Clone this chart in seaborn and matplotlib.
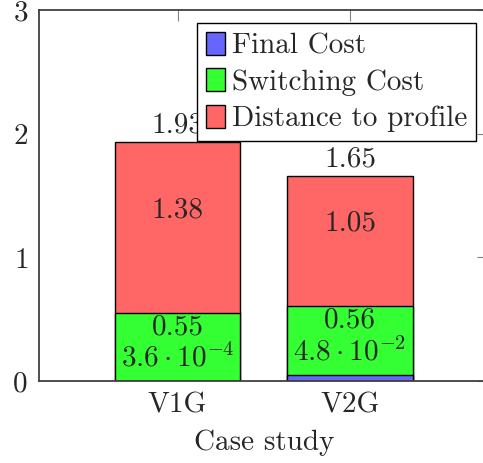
import numpy as np
import pandas as pd
import matplotlib
matplotlib.use("Agg")
from matplotlib import pyplot as plt
import seaborn as sns

# data
cases = ["V1G", "V2G"]
final_cost = [3.6e-4, 4.8e-2]
switching_cost = [0.55, 0.56]
distance = [1.38, 1.05]
totals = [1.93, 1.65]
final_labels = [r"$3.6\cdot10^{-4}$", r"$4.8\cdot10^{-2}$"]
switch_labels = ["0.55", "0.56"]
dist_labels = ["1.38", "1.05"]
total_labels = ["1.93", "1.65"]

sns.set_style("white")
plt.rcParams["font.family"] = "serif"
plt.rcParams["font.serif"] = ["cmr10", "DejaVu Serif"]
plt.rcParams["mathtext.fontset"] = "cm"
plt.rcParams["axes.unicode_minus"] = False
plt.rcParams["axes.formatter.use_mathtext"] = True

df = pd.DataFrame({"case": cases, "final": final_cost,
                   "switch": switching_cost, "dist": distance})
df["lvl1"] = df["final"]
df["lvl2"] = df["final"] + df["switch"]
df["lvl3"] = df["lvl2"] + df["dist"]

fs = 21
fig = plt.figure(figsize=(4.83, 4.63), dpi=100)
ax = fig.add_axes([39 / 483, 82 / 463, 449.5 / 483, 371 / 463])

blue, green, red = "#6666ff", "#33ff33", "#ff6666"
w = 0.725
# stacked bars: draw cumulative heights from top to bottom
sns.barplot(data=df, x="case", y="lvl3", color=red, saturation=1, width=w,
            edgecolor="black", linewidth=1.0, ax=ax, label="Distance to profile")
sns.barplot(data=df, x="case", y="lvl2", color=green, saturation=1, width=w,
            edgecolor="black", linewidth=1.0, ax=ax, label="Switching Cost")
sns.barplot(data=df, x="case", y="lvl1", color=blue, saturation=1, width=w,
            edgecolor="black", linewidth=1.0, ax=ax, label="Final Cost")

for i in range(len(cases)):
    f = final_cost[i]
    s = switching_cost[i]
    d = distance[i]
    ax.text(i, f + 0.19, final_labels[i], ha="center", va="center", fontsize=fs)
    ax.text(i, f + s / 2 + 0.16, switch_labels[i], ha="center", va="center", fontsize=fs)
    ax.text(i, f + s + d / 2 + 0.14, dist_labels[i], ha="center", va="center", fontsize=fs)
    ax.annotate(total_labels[i], (i, totals[i]), xytext=(0, 3), textcoords="offset points",
                ha="center", va="bottom", fontsize=fs)

ax.set_ylim(0, 3)
ax.set_xlim(-0.803, 1.803)
ax.set_yticks([0, 1, 2, 3])
ax.set_xlabel("Case study", fontsize=fs, labelpad=8)
ax.set_ylabel("")
ax.tick_params(axis="both", labelsize=fs, direction="in", length=8, width=0.8,
               color="#808080", top=True, right=True, pad=8)
for sp in ax.spines.values():
    sp.set_color("#404040")
    sp.set_linewidth(1.3)

handles, labels = ax.get_legend_handles_labels()
order = [labels.index("Final Cost"), labels.index("Switching Cost"),
         labels.index("Distance to profile")]
leg = ax.legend([handles[k] for k in order], [labels[k] for k in order],
                loc="upper right", bbox_to_anchor=(476 / 483, 1 - 23 / 463),
                bbox_transform=fig.transFigure, borderaxespad=0, fontsize=fs,
                frameon=True, fancybox=False, framealpha=1, edgecolor="black",
                handlelength=0.65, handleheight=0.85, handletextpad=0.25,
                labelspacing=0.3, borderpad=0.3)
leg.get_frame().set_linewidth(1.0)
leg.set_zorder(10)

fig.savefig("out.png", dpi=100)
